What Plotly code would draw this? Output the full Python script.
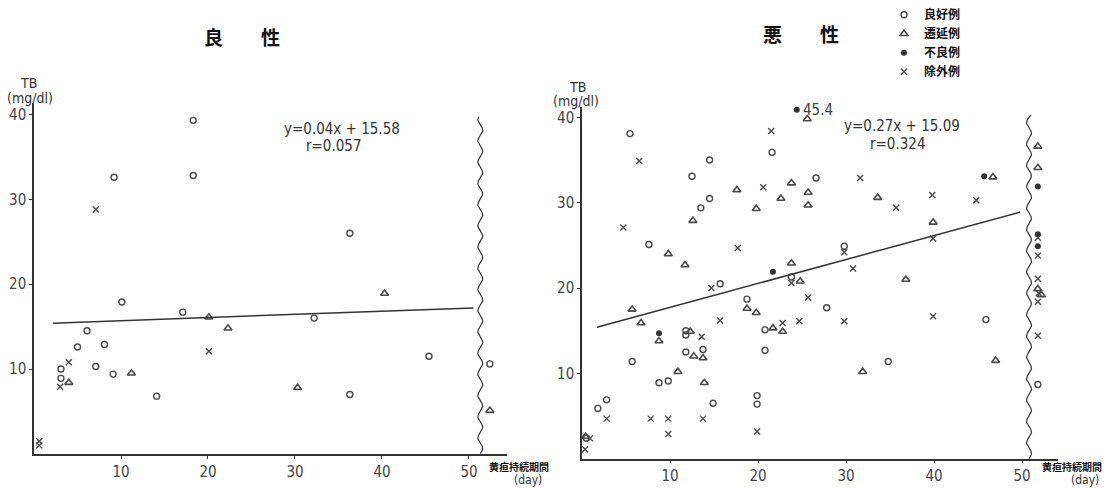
import numpy as np
import plotly.graph_objects as go

# ---------------- data ----------------
# benign (良性): x = jaundice duration (day), y = TB (mg/dl)
b_good_x = [18.3, 9.2, 18.3, 10.1, 17.1, 6.1, 5.0, 8.1, 3.1, 7.1, 9.1, 3.1, 14.1, 36.3, 32.2, 45.4, 36.3, 52.4]
b_good_y = [39.3, 32.6, 32.8, 17.9, 16.7, 14.5, 12.6, 12.9, 10.0, 10.3, 9.4, 8.9, 6.8, 26.0, 16.0, 11.5, 7.0, 10.6]
b_prol_x = [20.1, 22.3, 11.2, 4.0, 40.3, 30.3, 52.4]
b_prol_y = [16.1, 14.8, 9.5, 8.4, 18.9, 7.8, 5.1]
b_excl_x = [7.1, 20.1, 4.0, 3.0, 0.6, 0.6]
b_excl_y = [28.8, 12.1, 10.8, 7.9, 1.5, 1.0]
b_fit_x = [2.2, 50.5]
b_fit_y = [15.4, 17.2]

# malignant (悪性)
m_good_x = [5.45, 14.5, 12.5, 21.6, 14.5, 13.5, 7.6, 23.8, 26.6, 29.8, 15.7, 27.8, 18.75, 20.8, 45.9,
            34.8, 11.8, 11.8, 13.75, 11.8, 5.7, 8.75, 9.8, 14.9, 2.8, 1.8, 19.9, 19.9, 20.8, 0.5, 51.8]
m_good_y = [38.1, 35.0, 33.1, 35.9, 30.5, 29.4, 25.1, 21.3, 32.9, 24.9, 20.5, 17.7, 18.7, 15.1, 16.3,
            11.4, 15.0, 14.5, 12.8, 12.5, 11.4, 8.9, 9.1, 6.5, 6.9, 5.9, 7.4, 6.4, 12.7, 2.4, 8.7]
m_prol_x = [17.6, 23.8, 22.6, 19.8, 12.6, 9.8, 11.7, 23.8, 24.8, 25.6, 25.7, 25.7, 33.6, 46.7, 39.9,
            36.8, 18.75, 19.8, 21.7, 22.8, 31.9, 47.0, 5.7, 6.7, 8.75, 12.3, 12.7, 13.75, 10.9, 13.9,
            0.4, 51.8, 51.8, 51.8, 52.2]
m_prol_y = [31.5, 32.3, 30.5, 29.3, 27.9, 24.0, 22.7, 22.9, 20.8, 39.8, 31.2, 29.7, 30.6, 33.0, 27.7,
            21.0, 17.6, 17.1, 15.3, 14.9, 10.2, 11.5, 17.5, 15.9, 13.8, 14.9, 12.0, 11.8, 10.2, 8.9,
            2.6, 36.6, 34.1, 19.9, 19.2]
m_poor_x = [24.4, 41.5, 21.7, 45.7, 8.75, 51.8, 51.8, 51.8]
m_poor_y = [40.9, 41.3, 21.9, 33.1, 14.7, 31.9, 26.3, 24.9]
m_poor_labels = ["45.4", "54.5"]
m_excl_x = [6.5, 21.5, 20.6, 4.7, 17.7, 23.8, 31.6, 35.7, 39.8, 44.8, 39.9, 29.8, 30.8, 25.7, 15.7,
            24.7, 29.8, 22.8, 39.9, 14.7, 13.6, 2.8, 7.8, 9.8, 13.75, 9.8, 19.9, 0.9, 0.35,
            51.8, 51.8, 51.8, 51.9, 51.8, 51.8]
m_excl_y = [34.9, 38.4, 31.8, 27.1, 24.7, 20.6, 32.9, 29.4, 30.9, 30.3, 25.8, 24.2, 22.3, 18.9, 16.2,
            16.1, 16.1, 15.9, 16.7, 20.0, 14.3, 4.7, 4.7, 4.7, 4.7, 2.9, 3.2, 2.4, 1.1,
            25.9, 23.8, 21.1, 19.4, 18.4, 14.4]
m_fit_x = [1.7, 49.8]
m_fit_y = [15.4, 28.9]

x_ticks = [10, 20, 30, 40, 50]
y_ticks = [10, 20, 30, 40]
legend_names = ["良好例", "遷延例", "不良例", "除外例"]

# ---------------- styling ----------------
INK = "#333333"
MK = "#4a4a4a"
NUM_FONT = "Liberation Sans Narrow, DejaVu Sans Condensed, sans-serif"
CJK_FONT = "Noto Sans CJK JP, sans-serif"

sym = {
    "good": dict(symbol="circle-open", size=6, color=MK, line=dict(width=1.4, color=MK)),
    "prol": dict(symbol="triangle-up-open", size=7, color=MK, line=dict(width=1.6, color=MK)),
    "poor": dict(symbol="circle", size=6, color="#333333", line=dict(width=0)),
    "excl": dict(symbol="x-thin-open", size=6, color=MK, line=dict(width=1.4, color=MK)),
}

fig = go.Figure()


def add_pts(xs, ys, kind, xa, ya, name, show):
    fig.add_trace(go.Scatter(x=xs, y=ys, mode="markers", marker=sym[kind], xaxis=xa, yaxis=ya,
                             name=name, showlegend=show, legendgroup=kind, cliponaxis=False,
                             hoverinfo="skip"))


# legend-order traces (shown) come from malignant panel
add_pts(m_good_x, m_good_y, "good", "x2", "y2", legend_names[0], True)
add_pts(m_prol_x, m_prol_y, "prol", "x2", "y2", legend_names[1], True)
add_pts(m_poor_x, m_poor_y, "poor", "x2", "y2", legend_names[2], True)
add_pts(m_excl_x, m_excl_y, "excl", "x2", "y2", legend_names[3], True)
add_pts(b_good_x, b_good_y, "good", "x", "y", legend_names[0], False)
add_pts(b_prol_x, b_prol_y, "prol", "x", "y", legend_names[1], False)
add_pts(b_excl_x, b_excl_y, "excl", "x", "y", legend_names[3], False)

# regression lines
fig.add_trace(go.Scatter(x=b_fit_x, y=b_fit_y, mode="lines", line=dict(color=INK, width=1.5),
                         xaxis="x", yaxis="y", showlegend=False, hoverinfo="skip"))
fig.add_trace(go.Scatter(x=m_fit_x, y=m_fit_y, mode="lines", line=dict(color=INK, width=1.5),
                         xaxis="x2", yaxis="y2", showlegend=False, hoverinfo="skip"))

# axis-break wavy lines (decoration)
for xa, ya, xc, ytop in [("x", "y", 51.3, 39.7), ("x2", "y2", 50.8, 40.3)]:
    t = np.linspace(0, ytop, 400)
    fig.add_trace(go.Scatter(x=xc + 0.28 * np.sin(t / 2.5 * 2 * np.pi), y=t, mode="lines",
                             line=dict(color=INK, width=1.2), xaxis=xa, yaxis=ya,
                             showlegend=False, hoverinfo="skip", cliponaxis=False))

W, H = 1118, 488
axis_common = dict(showgrid=False, zeroline=False, showline=True, linecolor=INK, linewidth=1.5,
                   ticks="outside", ticklen=3, tickcolor=INK, tickwidth=1,
                   tickfont=dict(family=NUM_FONT, size=15, color="#444444"))

fig.update_layout(
    width=W, height=H, autosize=False,
    margin=dict(l=0, r=0, t=0, b=0),
    paper_bgcolor="white", plot_bgcolor="white",
    xaxis=dict(domain=[34 / W, 507 / W], range=[0, 54.37], tickvals=x_ticks, anchor="y", **axis_common),
    yaxis=dict(domain=[35 / H, 395 / H], range=[0, 41.38], tickvals=y_ticks, anchor="x", **axis_common),
    xaxis2=dict(domain=[582 / W, 1058 / W], range=[0, 54.09], tickvals=x_ticks, anchor="y2", **axis_common),
    yaxis2=dict(domain=[30 / H, 391 / H], range=[0, 41.26], tickvals=y_ticks, anchor="x2", **axis_common),
    legend=dict(x=884 / W, y=1.0 + 12 / H, xanchor="left", yanchor="top", bgcolor="rgba(0,0,0,0)",
                font=dict(family=CJK_FONT, size=12, color="#111111", weight="bold"),
                tracegroupgap=0, itemwidth=30),
)


def ann(text, px, py, size=15, family=NUM_FONT, xanchor="center", color="#333333", bold=False):
    fig.add_annotation(text=text, x=px / W, y=1 - py / H, xref="paper", yref="paper",
                       showarrow=False, xanchor=xanchor, yanchor="middle",
                       font=dict(family=family, size=size, color=color,
                                 weight="bold" if bold else "normal"))


ann("良　　性", 242, 25, size=19, family=CJK_FONT, color="#111111", bold=True)
ann("悪　　性", 801, 22, size=19, family=CJK_FONT, color="#111111", bold=True)

ann("TB", 28, 73, size=14)
ann("(mg/dl)", 30, 88, size=14)
ann("TB", 578, 77, size=14)
ann("(mg/dl)", 576, 91, size=14)

ann("y=0.04x + 15.58", 342, 120, size=15)
ann("r=0.057", 333, 137, size=15)
ann("y=0.27x + 15.09", 902, 117, size=15)
ann("r=0.324", 897, 135, size=15)

ann("黄疸持続期間", 487, 466, size=10, family=CJK_FONT, xanchor="left", color="#111111", bold=True)
ann("(day)", 528, 480, size=12)
ann("黄疸持続期間", 1040, 466, size=10, family=CJK_FONT, xanchor="left", color="#111111", bold=True)
ann("(day)", 1085, 480, size=12)

for i, lab in enumerate(m_poor_labels):
    fig.add_annotation(text=lab, x=m_poor_x[i], y=m_poor_y[i], xref="x2", yref="y2",
                       showarrow=False, xanchor="left", yanchor="middle", xshift=4,
                       font=dict(family=NUM_FONT, size=15, color="#444444"))

fig.write_html("out.html", config={"displayModeBar": False},
               post_script="document.body.style.margin='0px';document.body.style.overflow='hidden';")
